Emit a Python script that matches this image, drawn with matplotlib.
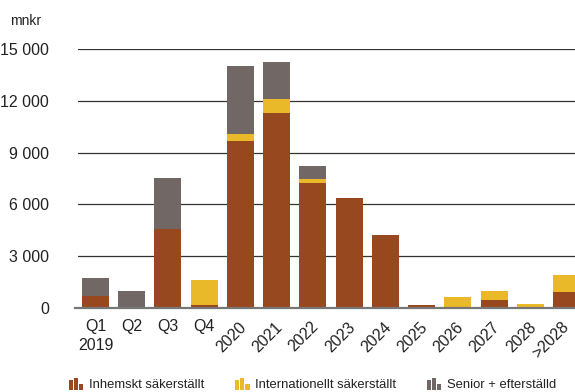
import matplotlib
matplotlib.use("Agg")
import matplotlib.pyplot as plt
from matplotlib.legend_handler import HandlerBase
from matplotlib.patches import Rectangle, Patch
from matplotlib.transforms import ScaledTranslation
import numpy as np

plt.rcParams["font.family"] = ["Liberation Sans", "DejaVu Sans"]

categories = ["Q1\n2019", "Q2", "Q3", "Q4", "2020", "2021", "2022", "2023",
              "2024", "2025", "2026", "2027", "2028", ">2028"]
inhemskt = [700, 0, 4600, 200, 9650, 11300, 7250, 6350, 4250, 200, 0, 450, 0, 900]
internationellt = [0, 0, 0, 1420, 400, 800, 250, 0, 0, 0, 650, 550, 240, 1000]
senior = [1050, 1000, 2950, 0, 3950, 2150, 700, 0, 0, 0, 0, 0, 0, 0]
labels = ["Inhemskt säkerställt", "Internationellt säkerställt", "Senior + efterställd"]
yticks = [0, 3000, 6000, 9000, 12000, 15000]

colors = ["#98481e", "#eab92a", "#716866"]
text_color = "#222222"


class BarIcon(HandlerBase):
    # small three-bar icon used as legend marker
    def create_artists(self, legend, orig_handle, xdescent, ydescent,
                       width, height, fontsize, trans):
        c = orig_handle.get_facecolor()
        bw = width / 3.4
        gap = (width - 3 * bw) / 2
        arts = []
        for i, h in enumerate([0.82, 1.0, 0.45]):
            r = Rectangle((-xdescent + i * (bw + gap), -ydescent), bw, height * h,
                          facecolor=c, edgecolor="none", transform=trans)
            arts.append(r)
        return arts


fig = plt.figure(figsize=(5.75, 3.92), dpi=100)
ax = fig.add_axes([78 / 575, 1 - 308 / 392, 1 - 78 / 575, (308 - 49) / 392])

x = np.arange(len(categories))
bw = 0.745
inh = np.array(inhemskt)
intl = np.array(internationellt)
sen = np.array(senior)
ax.bar(x, inh, bw, color=colors[0], zorder=3)
ax.bar(x, intl, bw, bottom=inh, color=colors[1], zorder=3)
ax.bar(x, sen, bw, bottom=inh + intl, color=colors[2], zorder=3)

ax.set_xlim(-0.483, 13.23)
ax.set_ylim(0, 15000)
ax.set_yticks(yticks)
ax.set_yticklabels([f"{v:,}".replace(",", " ") for v in yticks])
for v in yticks[1:]:
    ax.axhline(v, color="#333333", lw=0.9, zorder=1)
ax.axhline(0, xmin=-0.006, color="#777777", lw=1.6, zorder=4, clip_on=False)

for s in ax.spines.values():
    s.set_visible(False)
ax.tick_params(axis="y", length=0, pad=21, labelsize=11.5, labelcolor=text_color)
ax.tick_params(axis="x", length=0, pad=8, labelsize=11.5, labelcolor=text_color)

ax.set_xticks(x)
ax.set_xticklabels(categories)
for i, lab in enumerate(ax.get_xticklabels()):
    if i >= 4:
        lab.set_rotation(45)
        lab.set_rotation_mode("anchor")
        lab.set_ha("right")
        lab.set_va("top")
        dx = -5 if i == len(categories) - 1 else -2
        lab.set_transform(lab.get_transform() + ScaledTranslation(dx / 100, 0, fig.dpi_scale_trans))
    else:
        lab.set_linespacing(1.3)

fig.text(10 / 575, 1 - 21 / 392, "mnkr", fontsize=10, color=text_color, va="center")

handles = [Patch(facecolor=c) for c in colors]
fig.legend(handles, labels, loc="lower left", bbox_to_anchor=(69 / 575, 0.002),
           ncol=3, frameon=False, fontsize=9.4, labelcolor=text_color,
           handler_map={Patch: BarIcon()}, handlelength=1.1, handleheight=1.05,
           handletextpad=0.45, columnspacing=2.35, borderpad=0, borderaxespad=0)

fig.savefig("out.png", dpi=100)
